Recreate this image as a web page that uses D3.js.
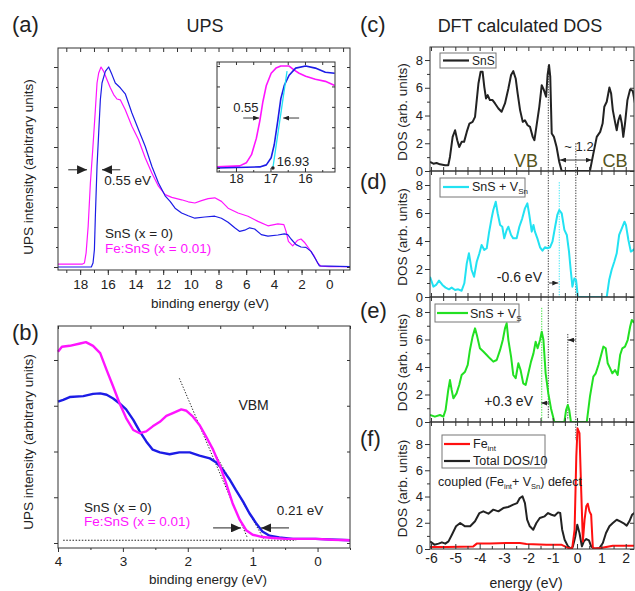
<!DOCTYPE html>
<html>
<head>
<meta charset="utf-8">
<script src="https://cdn.jsdelivr.net/npm/d3@7"></script>
<style>
  body { margin: 0; background: #fff; }
  svg { font-family: "Liberation Sans", Arial, sans-serif; }
</style>
</head>
<body>
<svg width="635" height="591"></svg>
<script>
// ---------- data: [energy (eV), intensity] ----------
// (a) full UPS spectra
const upsSnS = [[19.6,0],[17.19,0],[17.07,0.1],[16.97,0.43],[16.9,1.27],[16.78,2.52],[16.66,3.35],[16.54,4.18],[16.42,4.6],[16.18,4.89],[15.94,5.0],[15.7,4.81],[15.46,4.6],[15.1,4.48],[14.74,4.33],[14.26,3.85],[13.78,3.43],[13.3,3.02],[12.82,2.52],[12.34,2.1],[11.86,1.78],[11.5,1.64],[11.14,1.47],[10.67,1.35],[10.19,1.28],[9.71,1.22],[8.99,1.25],[8.27,1.27],[7.79,1.22],[7.31,1.12],[6.83,0.98],[6.47,0.89],[6.11,0.92],[5.75,0.98],[5.39,0.95],[4.91,0.81],[4.43,0.77],[3.71,0.8],[3.24,0.83],[3.0,0.81],[2.76,0.7],[2.4,0.56],[2.04,0.5],[1.68,0.49],[1.32,0.39],[0.96,0.18],[0.72,0.03],[0,0.02],[-1.5,0.01]];
const upsFe = [[19.6,0.07],[17.86,0.07],[17.69,0.1],[17.57,0.35],[17.42,1.02],[17.26,2.1],[17.09,2.93],[16.9,3.93],[16.78,4.6],[16.66,4.85],[16.49,5.0],[16.3,4.89],[16.06,4.68],[15.82,4.48],[15.58,4.31],[15.34,4.2],[15.1,4.18],[14.74,3.93],[14.26,3.52],[13.78,3.18],[13.3,2.73],[12.82,2.35],[12.34,2.02],[11.86,1.81],[11.38,1.74],[10.67,1.68],[10.19,1.63],[9.71,1.6],[9.23,1.66],[8.75,1.71],[8.27,1.73],[7.79,1.64],[7.31,1.47],[6.59,1.35],[5.87,1.27],[5.15,1.14],[4.43,1.03],[3.71,1.08],[3.28,1.06],[3.12,0.89],[2.95,0.64],[2.64,0.53],[2.28,0.67],[2.04,0.7],[1.8,0.62],[1.44,0.45],[1.08,0.27],[0.84,0.1],[0.6,0.02],[0,0.01],[-1.5,0.01]];
// (a) inset, normalised cut-off region
const insetSnS = [[18.55,0],[17.31,0.01],[17.12,0.03],[16.98,0.1],[16.89,0.23],[16.79,0.46],[16.7,0.68],[16.6,0.81],[16.46,0.91],[16.27,0.98],[15.98,1.0],[15.7,0.98],[15.41,0.94],[15.14,0.93]];
const insetFe = [[18.55,0.01],[17.89,0.02],[17.7,0.05],[17.55,0.13],[17.41,0.29],[17.31,0.46],[17.22,0.65],[17.12,0.81],[16.98,0.93],[16.84,0.98],[16.7,1.0],[16.46,1.0],[16.31,0.96],[16.17,0.93],[15.98,0.9],[15.7,0.87],[15.41,0.85],[15.14,0.81]];
// (b) valence band edge
const vbSnS = [[4.0,3.09],[3.92,3.13],[3.82,3.19],[3.61,3.21],[3.46,3.26],[3.35,3.27],[3.25,3.24],[3.15,3.16],[3.05,3.05],[2.95,2.92],[2.84,2.69],[2.74,2.44],[2.64,2.22],[2.54,2.04],[2.43,1.98],[2.28,1.94],[2.13,1.98],[1.97,1.98],[1.82,1.91],[1.66,1.85],[1.56,1.76],[1.46,1.6],[1.36,1.4],[1.26,1.16],[1.15,0.91],[1.05,0.65],[0.95,0.44],[0.85,0.25],[0.74,0.16],[0.59,0.12],[0.38,0.09],[0.03,0.09],[-0.5,0.06]];
const vbFe = [[4.0,4.18],[3.94,4.29],[3.82,4.31],[3.66,4.36],[3.57,4.39],[3.46,4.31],[3.35,4.15],[3.25,3.78],[3.15,3.42],[3.05,3.05],[2.95,2.73],[2.84,2.47],[2.74,2.4],[2.64,2.44],[2.54,2.55],[2.43,2.65],[2.33,2.78],[2.23,2.84],[2.1,2.92],[2.02,2.89],[1.92,2.76],[1.82,2.58],[1.72,2.33],[1.61,2.04],[1.51,1.71],[1.41,1.31],[1.31,0.87],[1.2,0.51],[1.1,0.28],[1.0,0.18],[0.85,0.13],[0.69,0.11],[0.49,0.09],[0.03,0.09],[-0.23,0.07],[-0.5,0.06]];
// (c)-(f) DFT density of states
const dosSnS = [[-6.04,0.65],[-5.9,0.53],[-5.77,0.58],[-5.63,0.48],[-5.42,0.41],[-5.29,0.41],[-5.22,1.01],[-5.11,2.46],[-5.01,2.94],[-4.92,2.22],[-4.84,1.73],[-4.74,2.1],[-4.64,2.1],[-4.53,2.82],[-4.42,3.42],[-4.29,3.54],[-4.19,3.9],[-4.12,5.11],[-4.05,6.31],[-3.96,7.16],[-3.88,7.16],[-3.81,6.07],[-3.74,5.23],[-3.67,5.47],[-3.58,5.11],[-3.47,5.11],[-3.37,4.87],[-3.23,4.51],[-3.1,4.27],[-2.96,4.87],[-2.82,5.95],[-2.71,6.92],[-2.62,7.2],[-2.52,6.67],[-2.44,5.59],[-2.34,4.39],[-2.23,3.54],[-2.14,3.66],[-2.03,3.3],[-1.93,3.18],[-1.82,2.46],[-1.75,2.22],[-1.66,3.3],[-1.55,4.63],[-1.45,6.19],[-1.36,5.83],[-1.27,5.35],[-1.21,6.92],[-1.15,7.64],[-1.1,6.8],[-1.04,2.7],[-0.95,2.46],[-0.84,1.73],[-0.73,0.65],[-0.63,0],[0.53,0],[0.67,1.25],[0.81,2.46],[0.95,2.82],[1.05,3.42],[1.12,4.63],[1.22,4.99],[1.33,6.02],[1.4,5.59],[1.47,4.39],[1.56,3.54],[1.63,2.94],[1.7,3.66],[1.77,4.02],[1.84,3.42],[1.9,2.46],[1.97,3.42],[2.07,5.11],[2.18,5.88],[2.29,5.78],[2.38,4.87]];
const dosVSn = [[-6.04,1.45],[-5.9,0.74],[-5.79,0.86],[-5.67,1.17],[-5.53,0.86],[-5.4,0.67],[-5.26,0.55],[-5.15,0.67],[-5.01,0.5],[-4.88,0.55],[-4.74,0.45],[-4.63,0.98],[-4.53,2.4],[-4.44,3.12],[-4.33,1.93],[-4.23,1.45],[-4.12,2.52],[-4.01,3.12],[-3.92,3.71],[-3.81,3.36],[-3.71,3.48],[-3.62,4.55],[-3.51,5.62],[-3.44,6.21],[-3.34,6.81],[-3.26,5.98],[-3.16,5.14],[-3.07,5.02],[-2.99,4.19],[-2.89,4.79],[-2.82,5.02],[-2.71,4.43],[-2.62,4.19],[-2.48,4.19],[-2.37,5.02],[-2.25,5.62],[-2.14,6.33],[-2.04,6.69],[-1.96,5.86],[-1.86,4.67],[-1.79,5.14],[-1.73,4.67],[-1.63,4.19],[-1.52,3.55],[-1.42,3.31],[-1.32,3.55],[-1.21,3.48],[-1.11,3.55],[-1.01,3.95],[-0.9,5.02],[-0.81,5.86],[-0.73,6.21],[-0.63,5.98],[-0.52,4.79],[-0.42,4.43],[-0.33,3.24],[-0.26,1.93],[-0.19,0.74],[-0.11,1.33],[-0.04,1.21],[0.03,0.07],[0.08,0],[1.22,0],[1.32,1.21],[1.42,1.93],[1.53,2.52],[1.63,3.12],[1.73,4.43],[1.84,4.9],[1.95,5.38],[2.01,5.14],[2.11,4.07],[2.21,3.24],[2.32,3.36],[2.38,3.48]];
const dosVS = [[-6.04,0.51],[-5.84,0.39],[-5.63,0.51],[-5.49,0.39],[-5.4,0.87],[-5.29,2.33],[-5.22,3.05],[-5.15,2.33],[-5.08,1.72],[-4.95,2.08],[-4.84,2.69],[-4.74,3.42],[-4.6,3.66],[-4.49,4.15],[-4.4,5.24],[-4.29,6.21],[-4.19,6.81],[-4.1,6.21],[-3.99,5.36],[-3.85,5.12],[-3.71,4.87],[-3.58,4.63],[-3.44,4.39],[-3.3,4.51],[-3.16,5.24],[-3.05,5.96],[-2.96,6.81],[-2.89,7.18],[-2.82,5.96],[-2.71,4.75],[-2.62,3.42],[-2.52,3.18],[-2.41,4.27],[-2.32,3.78],[-2.21,2.81],[-2.11,2.69],[-2.0,3.54],[-1.89,4.39],[-1.79,4.99],[-1.7,5.84],[-1.62,5.36],[-1.52,5.96],[-1.45,6.57],[-1.38,5.96],[-1.29,3.54],[-1.18,2.08],[-1.07,0.99],[-0.93,0],[-0.52,0],[-0.45,0.87],[-0.38,1.24],[-0.32,0.87],[-0.25,0],[0.4,0],[0.53,1.84],[0.67,3.3],[0.77,3.54],[0.88,4.15],[0.99,4.87],[1.08,5.48],[1.18,5.36],[1.26,4.27],[1.36,3.9],[1.45,3.54],[1.56,3.78],[1.67,3.42],[1.77,4.87],[1.86,5.36],[1.97,5.48],[2.08,5.96],[2.18,6.93],[2.25,7.42],[2.38,7.18]];
const dosFe = [[-6.04,0.15],[-5.35,0.15],[-4.26,0.2],[-4.12,0.41],[-3.58,0.41],[-2.9,0.46],[-2.35,0.46],[-2.08,0.38],[-1.26,0.33],[-0.65,0.33],[-0.37,0.08],[-0.2,0.05],[-0.1,1.47],[-0.03,7.06],[0.02,9.2],[0.1,8.83],[0.17,4.52],[0.24,0.58],[0.31,2.23],[0.38,3.25],[0.44,3.45],[0.51,2.87],[0.58,2.61],[0.65,0.08],[0.92,0.05],[1.47,0.25],[2.38,0.25]];
const dosTotal = [[-6.04,0.58],[-5.86,0.33],[-5.69,0.41],[-5.55,0.51],[-5.41,0.41],[-5.28,0.58],[-5.14,1.09],[-4.97,1.73],[-4.8,1.98],[-4.6,1.73],[-4.39,1.73],[-4.19,2.11],[-4.01,2.74],[-3.85,2.87],[-3.64,2.69],[-3.44,3.0],[-3.23,2.87],[-3.03,3.12],[-2.83,3.2],[-2.62,3.38],[-2.46,3.5],[-2.35,3.88],[-2.24,4.01],[-2.14,3.5],[-2.05,2.23],[-1.94,1.73],[-1.8,1.47],[-1.67,1.98],[-1.53,2.36],[-1.33,2.49],[-1.19,2.74],[-1.05,2.61],[-0.92,2.54],[-0.78,2.79],[-0.69,2.74],[-0.61,1.47],[-0.51,0.71],[-0.37,0.2],[-0.24,0],[-0.17,0.2],[-0.07,0.96],[0.01,1.85],[0.1,1.22],[0.2,0.2],[0.28,0.58],[0.38,0.76],[0.49,0.66],[0.58,0.2],[0.72,0],[0.92,0.08],[1.06,0.46],[1.19,1.22],[1.33,1.73],[1.47,1.98],[1.63,2.23],[1.77,2.11],[1.9,1.98],[2.04,1.78],[2.15,2.11],[2.26,2.61],[2.38,2.79]];

const BLUE = "#1c1ce6", MAG = "#ff14ff", CYAN = "#22e2f2", GREEN = "#22e022", RED = "#ff1010", INK = "#222";

const svg = d3.select("svg");
const defs = svg.append("defs");
function marker(id, len, wid) {
  defs.append("marker").attr("id", id).attr("markerUnits", "userSpaceOnUse")
    .attr("markerWidth", len).attr("markerHeight", wid).attr("refX", len).attr("refY", wid / 2)
    .attr("orient", "auto")
    .append("path").attr("d", `M0,0L${len},${wid / 2}L0,${wid}Z`).attr("fill", INK);
}
marker("big", 10, 9);
marker("small", 6, 5);

function frame(p) {
  svg.append("rect").attr("x", p.l).attr("y", p.t).attr("width", p.r - p.l).attr("height", p.b - p.t)
    .attr("fill", "none").attr("stroke", "#333").attr("stroke-width", 1);
}
function ax(gen, tx, ty, vals, size, fmt, pad, fs) {
  const g = svg.append("g").attr("transform", `translate(${tx},${ty})`)
    .call(gen.tickValues(vals).tickSize(size).tickPadding(pad == null ? 3 : pad).tickFormat(fmt || (() => "")));
  g.select(".domain").remove();
  g.selectAll("line").attr("stroke", "#333");
  g.selectAll("text").attr("font-size", fs || 13).attr("fill", INK).attr("font-family", null);
  return g;
}
function curve(data, x, y, color, w, clip) {
  const p = svg.append("path").datum(data)
    .attr("d", d3.line().x(d => x(d[0])).y(d => y(d[1])))
    .attr("fill", "none").attr("stroke", color).attr("stroke-width", w).attr("stroke-linejoin", "round");
  if (clip) p.attr("clip-path", `url(#${clip})`);
  return p;
}
function seg(x, y, a, b, opts) {
  const l = svg.append("line").attr("x1", x(a[0])).attr("y1", y(a[1])).attr("x2", x(b[0])).attr("y2", y(b[1]))
    .attr("stroke", opts.color || INK).attr("stroke-width", opts.w || 1);
  if (opts.dash) l.attr("stroke-dasharray", opts.dash);
  if (opts.end) l.attr("marker-end", `url(#${opts.end})`);
  return l;
}
function label(x, y, txt, opts) {
  return svg.append("text").attr("x", x).attr("y", y).text(txt)
    .attr("font-size", opts.fs || 13).attr("fill", opts.color || INK)
    .attr("text-anchor", opts.anchor || "start");
}
function vlabel(cx, cy, txt, fs) {
  svg.append("text").attr("transform", `translate(${cx},${cy}) rotate(-90)`)
    .attr("text-anchor", "middle").attr("dy", "0.35em").attr("font-size", fs).attr("fill", INK).text(txt);
}
const fmtInt = d => String(d);

// ---------- panel (a) ----------
const pa = { l: 58, r: 350, t: 48, b: 270 };
const xa = d3.scaleLinear().domain([19.6, -1.5]).range([pa.l, pa.r]);
const ya = d3.scaleLinear().domain([-0.075, 5.475]).range([pa.b, pa.t]);
curve(upsFe, xa, ya, MAG, 1.2);
curve(upsSnS, xa, ya, BLUE, 1.2);
ax(d3.axisBottom(xa), 0, pa.b, d3.range(0, 19, 2), 5, fmtInt, 4, 13.5);
ax(d3.axisBottom(xa), 0, pa.b, d3.range(-1, 20, 1), 3);
ax(d3.axisTop(xa), 0, pa.t, d3.range(-1, 20, 1), -4);
ax(d3.axisLeft(ya), pa.l, 0, d3.range(0, 6, 1), 4);
ax(d3.axisLeft(ya), pa.l, 0, d3.range(0.5, 5.5, 1), 2);
ax(d3.axisRight(ya), pa.r, 0, d3.range(0, 5.5, 0.5), -3);
frame(pa);
seg(xa, ya, [18.86, 2.43], [17.5, 2.43], { end: "big", w: 1 });
seg(xa, ya, [15.1, 2.43], [16.42, 2.43], { end: "big", w: 1 });
label(xa(16.25), ya(2.05), "0.55 eV", { fs: 13.5 });
label(xa(16.2), ya(0.72), "SnS (x = 0)", { fs: 13.5 });
label(xa(16.2), ya(0.35), "Fe:SnS (x = 0.01)", { fs: 13.5, color: MAG });

// inset of (a)
const pi = { l: 217, r: 335, t: 62, b: 172 };
const xi = d3.scaleLinear().domain([18.55, 15.13]).range([pi.l, pi.r]);
const yi = d3.scaleLinear().domain([-0.04, 1.04]).range([pi.b, pi.t]);
svg.append("rect").attr("x", pi.l).attr("y", pi.t).attr("width", pi.r - pi.l).attr("height", pi.b - pi.t).attr("fill", "#fff");
curve(insetFe, xi, yi, MAG, 1.6);
curve(insetSnS, xi, yi, BLUE, 1.6);
seg(xi, yi, [16.93, 0], [16.52, 0.95], { color: CYAN, w: 1.3 });
svg.append("circle").attr("cx", xi(16.93)).attr("cy", yi(0)).attr("r", 1.8).attr("fill", INK);
ax(d3.axisBottom(xi), 0, pi.b, [16, 17, 18], -4, fmtInt, 2, 13);
ax(d3.axisBottom(xi), 0, pi.b, [15.5, 16.5, 17.5, 18.5], -2);
ax(d3.axisTop(xi), 0, pi.t, [15.5, 16, 16.5, 17, 17.5, 18, 18.5], -3);
ax(d3.axisLeft(yi), pi.l, 0, d3.range(0, 1.01, 0.2), -3);
ax(d3.axisRight(yi), pi.r, 0, d3.range(0, 1.01, 0.2), -3);
frame(pi);
seg(xi, yi, [17.79, 0.49], [17.33, 0.49], { end: "small", w: 0.9 });
seg(xi, yi, [16.17, 0.49], [16.63, 0.49], { end: "small", w: 0.9 });
label(xi(18.08), yi(0.55), "0.55", { fs: 13 });
label(xi(16.82), yi(0.015), "16.93", { fs: 13 });

// ---------- panel (b) ----------
const pb = { l: 58, r: 350, t: 326, b: 548 };
const xb = d3.scaleLinear().domain([4, -0.5]).range([pb.l, pb.r]);
const yb = d3.scaleLinear().domain([-0.109, 4.743]).range([pb.b, pb.t]);
seg(xb, yb, [3.92, 0.06], [0.33, 0.06], { dash: "1.5,1.6", w: 1.1 });
seg(xb, yb, [2.13, 3.6], [1.08, 0.11], { dash: "1.3,1.7", w: 1 });
seg(xb, yb, [1.6, 2.0], [0.82, 0.07], { dash: "1.3,1.7", w: 1 });
curve(vbSnS, xb, yb, BLUE, 2.4);
curve(vbFe, xb, yb, MAG, 2.4);
ax(d3.axisBottom(xb), 0, pb.b, [0, 1, 2, 3, 4], 4, fmtInt, 4, 13.5);
ax(d3.axisBottom(xb), 0, pb.b, [-0.5, 0.5, 1.5, 2.5, 3.5], 2);
ax(d3.axisTop(xb), 0, pb.t, d3.range(-0.5, 4.01, 0.5), -3);
ax(d3.axisLeft(yb), pb.l, 0, d3.range(0, 4.5, 1), 4);
ax(d3.axisRight(yb), pb.r, 0, d3.range(0, 4.5, 1), -3);
frame(pb);
seg(xb, yb, [1.61, 0.33], [1.18, 0.33], { end: "big", w: 1 });
seg(xb, yb, [0.44, 0.33], [0.87, 0.33], { end: "big", w: 1 });
label(xb(0.63), yb(0.62), "0.21 eV", { fs: 13.5 });
label(xb(1.22), yb(2.9), "VBM", { fs: 14 });
label(xb(3.6), yb(0.68), "SnS (x = 0)", { fs: 13.5 });
label(xb(3.6), yb(0.38), "Fe:SnS (x = 0.01)", { fs: 13.5, color: MAG });

// left-column titles and axis labels
label(12, 32, "(a)", { fs: 22 });
label(12, 340, "(b)", { fs: 22 });
label(205, 32, "UPS", { fs: 18, anchor: "middle" });
label(210, 308, "binding energy (eV)", { fs: 13.5, anchor: "middle" });
label(208, 584, "binding energy (eV)", { fs: 13.5, anchor: "middle" });
vlabel(28.5, 167, "UPS intensity (arbitrary units)", 13.5);
vlabel(28.5, 442, "UPS intensity (arbitrary units)", 13.5);

// ---------- panels (c)-(f) ----------
const xd = d3.scaleLinear().domain([-6.04, 2.34]).range([430, 634]);
const panels = [
  { id: "c", l: 430, r: 634, t: 47, b: 171, top: 8.94, data: [[dosSnS, INK]] },
  { id: "d", l: 430, r: 634, t: 171, b: 297, top: 9.0, data: [[dosVSn, CYAN]] },
  { id: "e", l: 430, r: 634, t: 297, b: 422, top: 9.09, data: [[dosVS, GREEN]] },
  { id: "f", l: 430, r: 634, t: 422, b: 549, top: 9.68, data: [[dosTotal, INK], [dosFe, RED]] }
];
panels.forEach(p => {
  p.y = d3.scaleLinear().domain([0, p.top]).range([p.b, p.t]);
  defs.append("clipPath").attr("id", "clip" + p.id).append("rect")
    .attr("x", p.l).attr("y", p.t - 1).attr("width", p.r - p.l).attr("height", p.b - p.t + 1);
});
const [pc, pd, pe, pf] = panels;

// guide lines
seg(xd, pc.y, [-1.18, 7.6], [-1.18, pc.top], { dash: "1.3,1.3", w: 0.9 }).attr("y2", pe.y(0.3));
seg(xd, pc.y, [-0.05, 2.0], [-0.05, pc.top], { dash: "1.3,1.3", w: 0.9 }).attr("y2", pf.y(8.3));
seg(xd, pd.y, [-0.73, 8.2], [-0.73, 0], { dash: "1.3,1.3", w: 0.9, color: CYAN });
seg(xd, pe.y, [-1.45, 8.3], [-1.45, 0], { dash: "1.3,1.3", w: 0.9, color: GREEN });
seg(xd, pe.y, [-0.38, 6.4], [-0.38, 0.15], { dash: "1.3,1.3", w: 0.9 });

panels.forEach(p => {
  p.data.forEach(([d, c]) => curve(d, xd, p.y, c, 2, "clip" + p.id));
  ax(d3.axisTop(xd), 0, p.t, d3.range(-6, 2.5, 0.5), -4);
  ax(d3.axisLeft(p.y), p.l, 0, d3.range(0, 9, 2), 5, fmtInt, 2, 13);
  ax(d3.axisLeft(p.y), p.l, 0, d3.range(1, 9, 2), 3);
  ax(d3.axisRight(p.y), p.r, 0, d3.range(0, 9, 2), -4);
  if (p.id !== "f") ax(d3.axisBottom(xd), 0, p.b, d3.range(-6, 2.5, 0.5), -4);
  frame(p);
  vlabel(402, (p.t + p.b) / 2 + 3, "DOS (arb. units)", 13.5);
});
ax(d3.axisBottom(xd), 0, pf.b, d3.range(-6, 2.5, 1), -5, fmtInt, 4, 14);
ax(d3.axisBottom(xd), 0, pf.b, d3.range(-5.5, 2.5, 1), -3);

// legends
function legendBox(x, y, w, h) {
  svg.append("rect").attr("x", x).attr("y", y).attr("width", w).attr("height", h)
    .attr("fill", "#fff").attr("stroke", "#777").attr("stroke-width", 1);
}
function legendLine(x1, x2, y, color) {
  svg.append("line").attr("x1", x1).attr("x2", x2).attr("y1", y).attr("y2", y)
    .attr("stroke", color).attr("stroke-width", 2.2);
}
function sub(t, base, s) {
  t.append("tspan").text(base);
  t.append("tspan").attr("font-size", 8).attr("dy", 3).text(s);
}
legendBox(440, 53, 56, 15);
legendLine(443, 469, 60.5, INK);
label(472, 65, "SnS", { fs: 12 });

legendBox(440, 178, 85, 19);
legendLine(443, 469, 187, CYAN);
sub(label(472, 191, "", { fs: 12.5 }), "SnS + V", "Sn");

legendBox(435, 304, 84, 18);
legendLine(437, 468, 313, GREEN);
sub(label(470, 318, "", { fs: 12.5 }), "SnS + V", "S");

legendBox(442, 435, 103, 33);
legendLine(444, 470, 444, RED);
sub(label(473, 448, "", { fs: 12.5 }), "Fe", "int");
legendLine(444, 470, 461, INK);
label(473, 465, "Total DOS/10", { fs: 12.5 });
const cp = label(438, 486, "", { fs: 12.5 });
cp.append("tspan").text("coupled (Fe");
cp.append("tspan").attr("font-size", 7.5).attr("dy", 3).text("int");
cp.append("tspan").attr("dy", -3).text("+ V");
cp.append("tspan").attr("font-size", 7.5).attr("dy", 3).text("Sn");
cp.append("tspan").attr("dy", -3).text(") defect");

// annotations
seg(xd, pc.y, [-0.05, 0.79], [-0.7, 0.79], { end: "small", w: 0.9 });
seg(xd, pc.y, [-0.05, 0.79], [0.6, 0.79], { end: "small", w: 0.9 });
label(579, 151, "~ 1.2", { fs: 13, anchor: "middle" });
label(526, 167, "VB", { fs: 18, anchor: "middle", color: "#55551e" });
label(615, 167, "CB", { fs: 18, anchor: "middle", color: "#55551e" });
seg(xd, pd.y, [-1.15, 1.0], [-0.77, 1.0], { end: "small", w: 0.9 });
label(542, 282, "-0.6 eV", { fs: 14, anchor: "end" });
seg(xd, pe.y, [-1.15, 1.38], [-1.47, 1.38], { end: "small", w: 0.9 });
label(533, 406, "+0.3 eV", { fs: 14, anchor: "end" });
seg(xd, pe.y, [-0.05, 5.96], [-0.37, 5.96], { end: "small", w: 0.9 });

label(360, 32, "(c)", { fs: 22 });
label(360, 189, "(d)", { fs: 22 });
label(360, 318, "(e)", { fs: 22 });
label(360, 446, "(f)", { fs: 22 });
label(520, 32, "DFT calculated DOS", { fs: 18, anchor: "middle" });
label(526, 588, "energy (eV)", { fs: 14, anchor: "middle" });
</script>
</body>
</html>
